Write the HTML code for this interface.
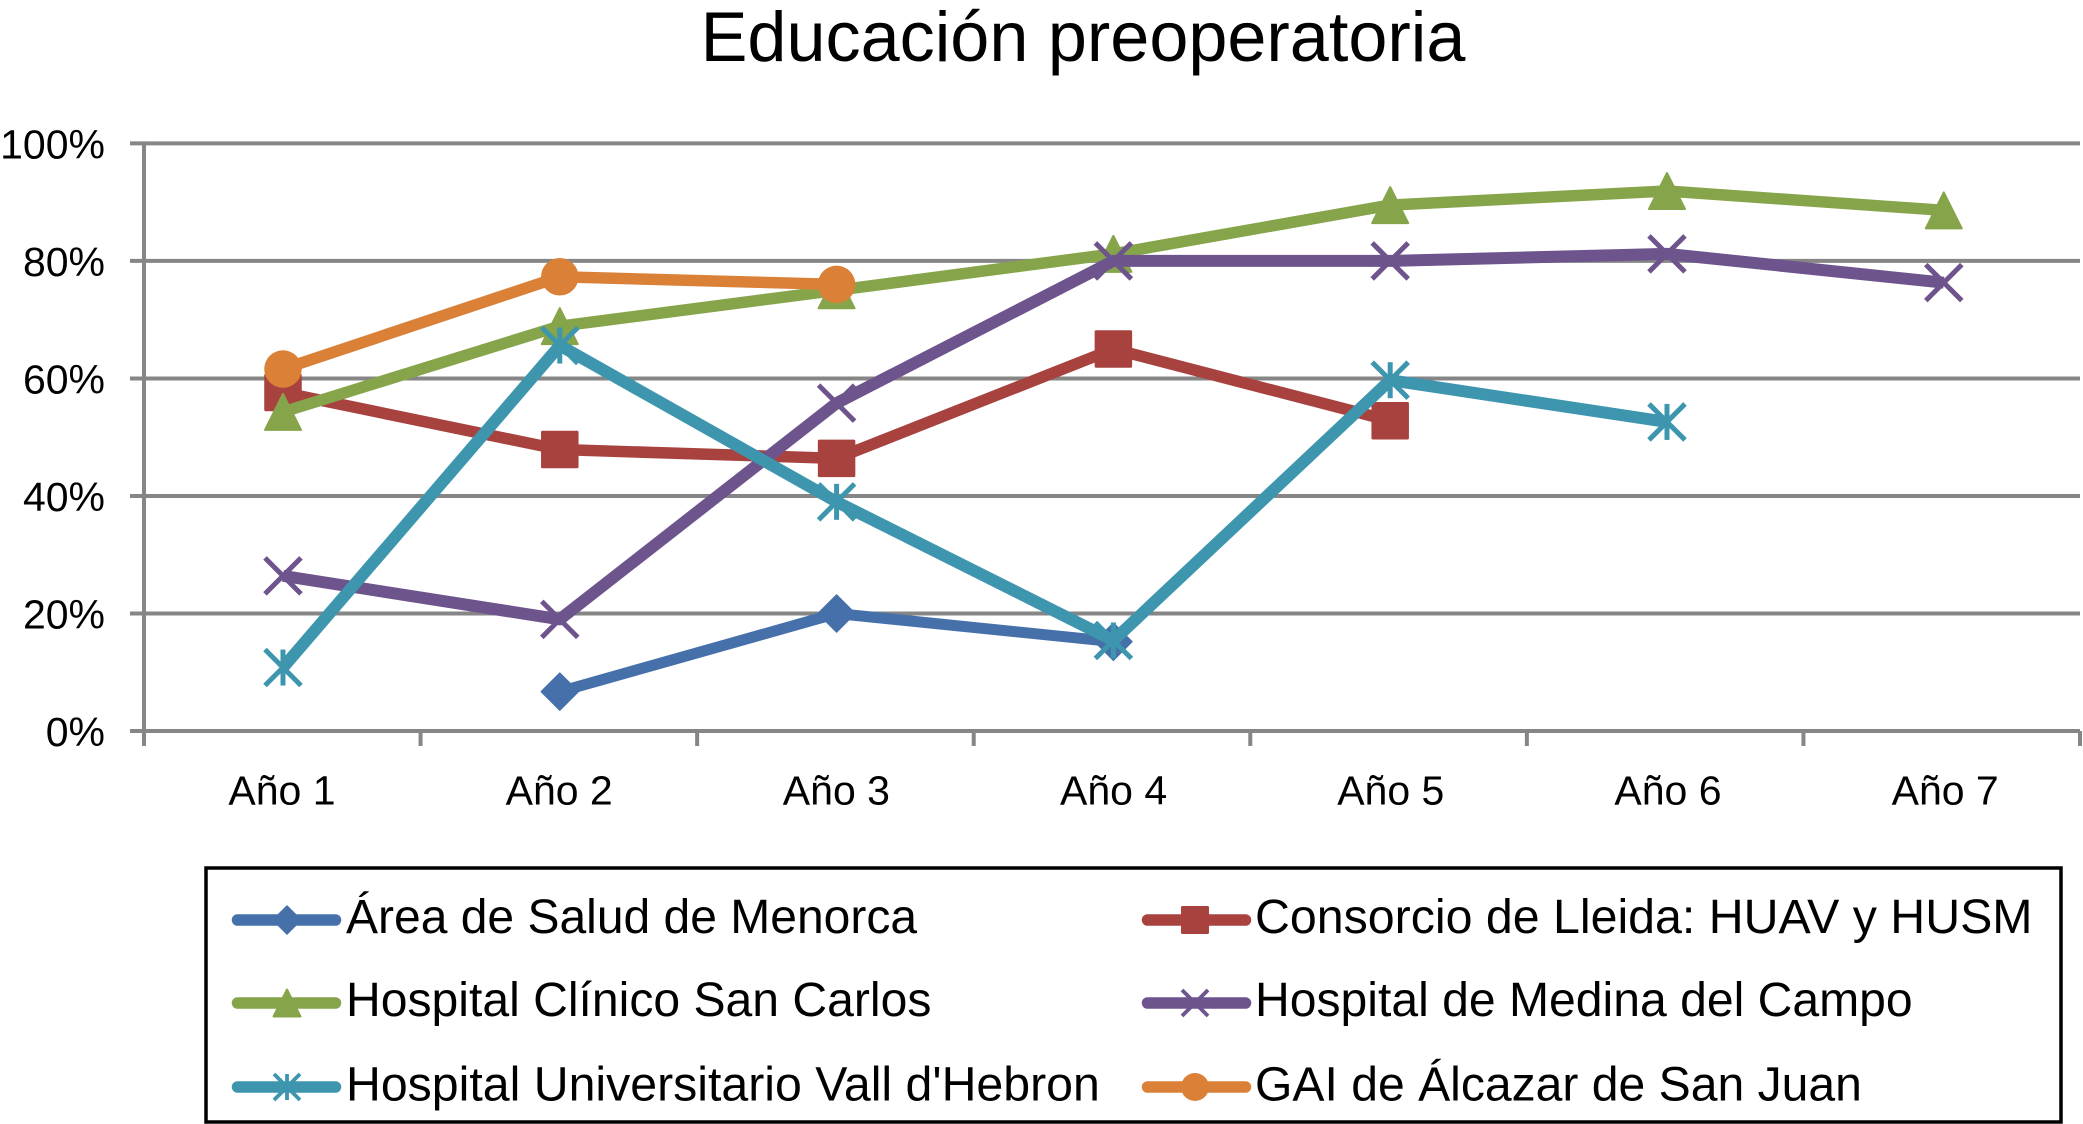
<!DOCTYPE html>
<html lang="es">
<head>
<meta charset="utf-8">
<title>Educación preoperatoria</title>
<style>
html,body{margin:0;padding:0;background:#fff;width:2083px;height:1124px;overflow:hidden}
svg{display:block}
text{font-family:"Liberation Sans",Arial,sans-serif;fill:#000}
</style>
</head>
<body>
<svg id="chart" xmlns="http://www.w3.org/2000/svg" width="2083" height="1124" viewBox="0 0 2083 1124">
  <rect x="0" y="0" width="2083" height="1124" fill="#fff"/>
  <text x="1083" y="61" font-size="70.2" text-anchor="middle">Educación preoperatoria</text>
  <g id="grid"></g>
  <g id="axes"></g>
  <g id="series"></g>
  <g id="legend">
    <rect x="206" y="868" width="1855" height="254" fill="#fff" stroke="#000" stroke-width="3.5"/>
    <text x="346" y="933" font-size="48">Área de Salud de Menorca</text>
    <text x="1255" y="933" font-size="48.3">Consorcio de Lleida: HUAV y HUSM</text>
    <text x="346" y="1016" font-size="48.1">Hospital Clínico San Carlos</text>
    <text x="1255" y="1016" font-size="48.1">Hospital de Medina del Campo</text>
    <text x="346" y="1100.5" font-size="48.25">Hospital Universitario Vall d'Hebron</text>
    <text x="1255" y="1100.5" font-size="48.1">GAI de Álcazar de San Juan</text>
  </g>
</svg>
<script>
const categories = ['Año 1', 'Año 2', 'Año 3', 'Año 4', 'Año 5', 'Año 6', 'Año 7'];
const yTicks = [0, 20, 40, 60, 80, 100];
const menorca = [null, 6.7, 20, 15.2, null, null, null];
const lleida = [57.6, 47.9, 46.4, 65, 52.8, null, null];
const clinico = [54.3, 68.9, 75, 81.2, 89.5, 91.9, 88.6];
const medina = [26.4, 19, 55.8, 80, 80, 81.2, 76.3];
const vallHebron = [10.8, 65.6, 39, 15.4, 59.7, 52.6, null];
const gai = [61.6, 77.3, 76, null, null, null, null];

const SVGNS = 'http://www.w3.org/2000/svg';
const plotLeft = 144, plotRight = 2080, plotTop = 143.4, plotBottom = 731;

function xBand(i) { return plotLeft + (plotRight - plotLeft) * i / categories.length; }
function xPos(i) { return xBand(0.5) + 0.7 + 276.8 * i; }
function yPos(v) { return plotBottom - (plotBottom - plotTop) * v / 100; }

function mk(tag, parent, attrs) {
  const el = document.createElementNS(SVGNS, tag);
  for (const k in attrs) el.setAttribute(k, attrs[k]);
  parent.appendChild(el);
  return el;
}

function drawMarker(parent, kind, cx, cy, s, color, sw) {
  const h = s / 2;
  if (kind === 'diamond') {
    mk('polygon', parent, {points: [cx, cy - h, cx + h, cy, cx, cy + h, cx - h, cy].join(' '), fill: color, stroke: color, 'stroke-width': 1.5, 'stroke-linejoin': 'round'});
  } else if (kind === 'square') {
    mk('rect', parent, {x: cx - h, y: cy - h, width: s, height: s, rx: 1.5, fill: color});
  } else if (kind === 'triangle') {
    mk('polygon', parent, {points: [cx, cy - h + 1, cx + h - 1, cy + h - 1, cx - h + 1, cy + h - 1].join(' '), fill: color, stroke: color, 'stroke-width': 2, 'stroke-linejoin': 'round'});
  } else if (kind === 'circle') {
    mk('circle', parent, {cx: cx, cy: cy, r: h, fill: color});
  } else {
    mk('line', parent, {x1: cx - h, y1: cy - h, x2: cx + h, y2: cy + h, stroke: color, 'stroke-width': sw});
    mk('line', parent, {x1: cx - h, y1: cy + h, x2: cx + h, y2: cy - h, stroke: color, 'stroke-width': sw});
    if (kind === 'star') {
      mk('line', parent, {x1: cx, y1: cy - h, x2: cx, y2: cy + h, stroke: color, 'stroke-width': sw});
    }
  }
}

const gridG = document.getElementById('grid');
const axesG = document.getElementById('axes');

yTicks.forEach(function (t) {
  const y = yPos(t);
  const line = mk('line', t === 0 ? axesG : gridG, {x1: 130, y1: y, x2: plotRight, y2: y, stroke: '#868686', 'stroke-width': 4});
  
  
  const label = mk('text', axesG, {x: 105, y: y + 15, 'font-size': 41, 'text-anchor': 'end'});
  label.textContent = t + '%';
  
  
});

const yAxis = mk('line', axesG, {x1: plotLeft, y1: plotTop - 2, x2: plotLeft, y2: 746, stroke: '#868686', 'stroke-width': 4});



categories.forEach(function (c, i) {
  const tick = mk('line', axesG, {x1: xBand(i + 1), y1: plotBottom, x2: xBand(i + 1), y2: 746, stroke: '#868686', 'stroke-width': 4});
  
  
  const label = mk('text', axesG, {x: xPos(i) - 1 + 0.4 * i, y: 804.5, 'font-size': 41, 'text-anchor': 'middle'});
  label.textContent = c;
  
  
});

const seriesDefs = [
  {id: 'menorca', values: menorca, color: '#4570A9', kind: 'diamond', width: 11, size: 37, sw: 0, lx: 287, ly: 920, ls: 28, x0: 232},
  {id: 'lleida', values: lleida, color: '#A8423F', kind: 'square', width: 11.5, size: 37.5, sw: 0, lx: 1195, ly: 920, ls: 28, x0: 1142},
  {id: 'clinico', values: clinico, color: '#86A44A', kind: 'triangle', width: 11.5, size: 38, sw: 0, lx: 287, ly: 1003, ls: 29, x0: 232},
  {id: 'medina', values: medina, color: '#6E548D', kind: 'cross', width: 12, size: 36, sw: 5, lx: 1195, ly: 1003, ls: 26, x0: 1142},
  {id: 'vall-hebron', values: vallHebron, color: '#3D96AE', kind: 'star', width: 12, size: 36, sw: 5, lx: 287, ly: 1087, ls: 26, x0: 232},
  {id: 'gai', values: gai, color: '#DA8137', kind: 'circle', width: 11.5, size: 37.5, sw: 0, lx: 1195, ly: 1087, ls: 28, x0: 1142}
];

const seriesG = document.getElementById('series');
const legendG = document.getElementById('legend');

seriesDefs.forEach(function (d) {
  const g = mk('g', seriesG, {});
  
  
  let path = '';
  let pen = false;
  d.values.forEach(function (v, i) {
    if (v === null) { pen = false; return; }
    path += (pen ? 'L' : 'M') + xPos(i) + ' ' + yPos(v);
    pen = true;
  });
  const line = mk('path', g, {d: path, fill: 'none', stroke: d.color, 'stroke-width': d.width, 'stroke-linejoin': 'round'});
  
  
  d.values.forEach(function (v, i) {
    if (v === null) return;
    const p = mk('g', g, {});
    
    
    drawMarker(p, d.kind, xPos(i), yPos(v), d.size, d.color, d.sw);
  });

  const key = mk('g', legendG, {});
  
  
  mk('line', key, {x1: d.x0 + 5.5, y1: d.ly, x2: d.x0 + 103.5, y2: d.ly, stroke: d.color, 'stroke-width': 11.5, 'stroke-linecap': 'round'});
  drawMarker(key, d.kind, d.lx, d.ly, d.ls, d.color, 3.8);
});
</script>
</body>
</html>
